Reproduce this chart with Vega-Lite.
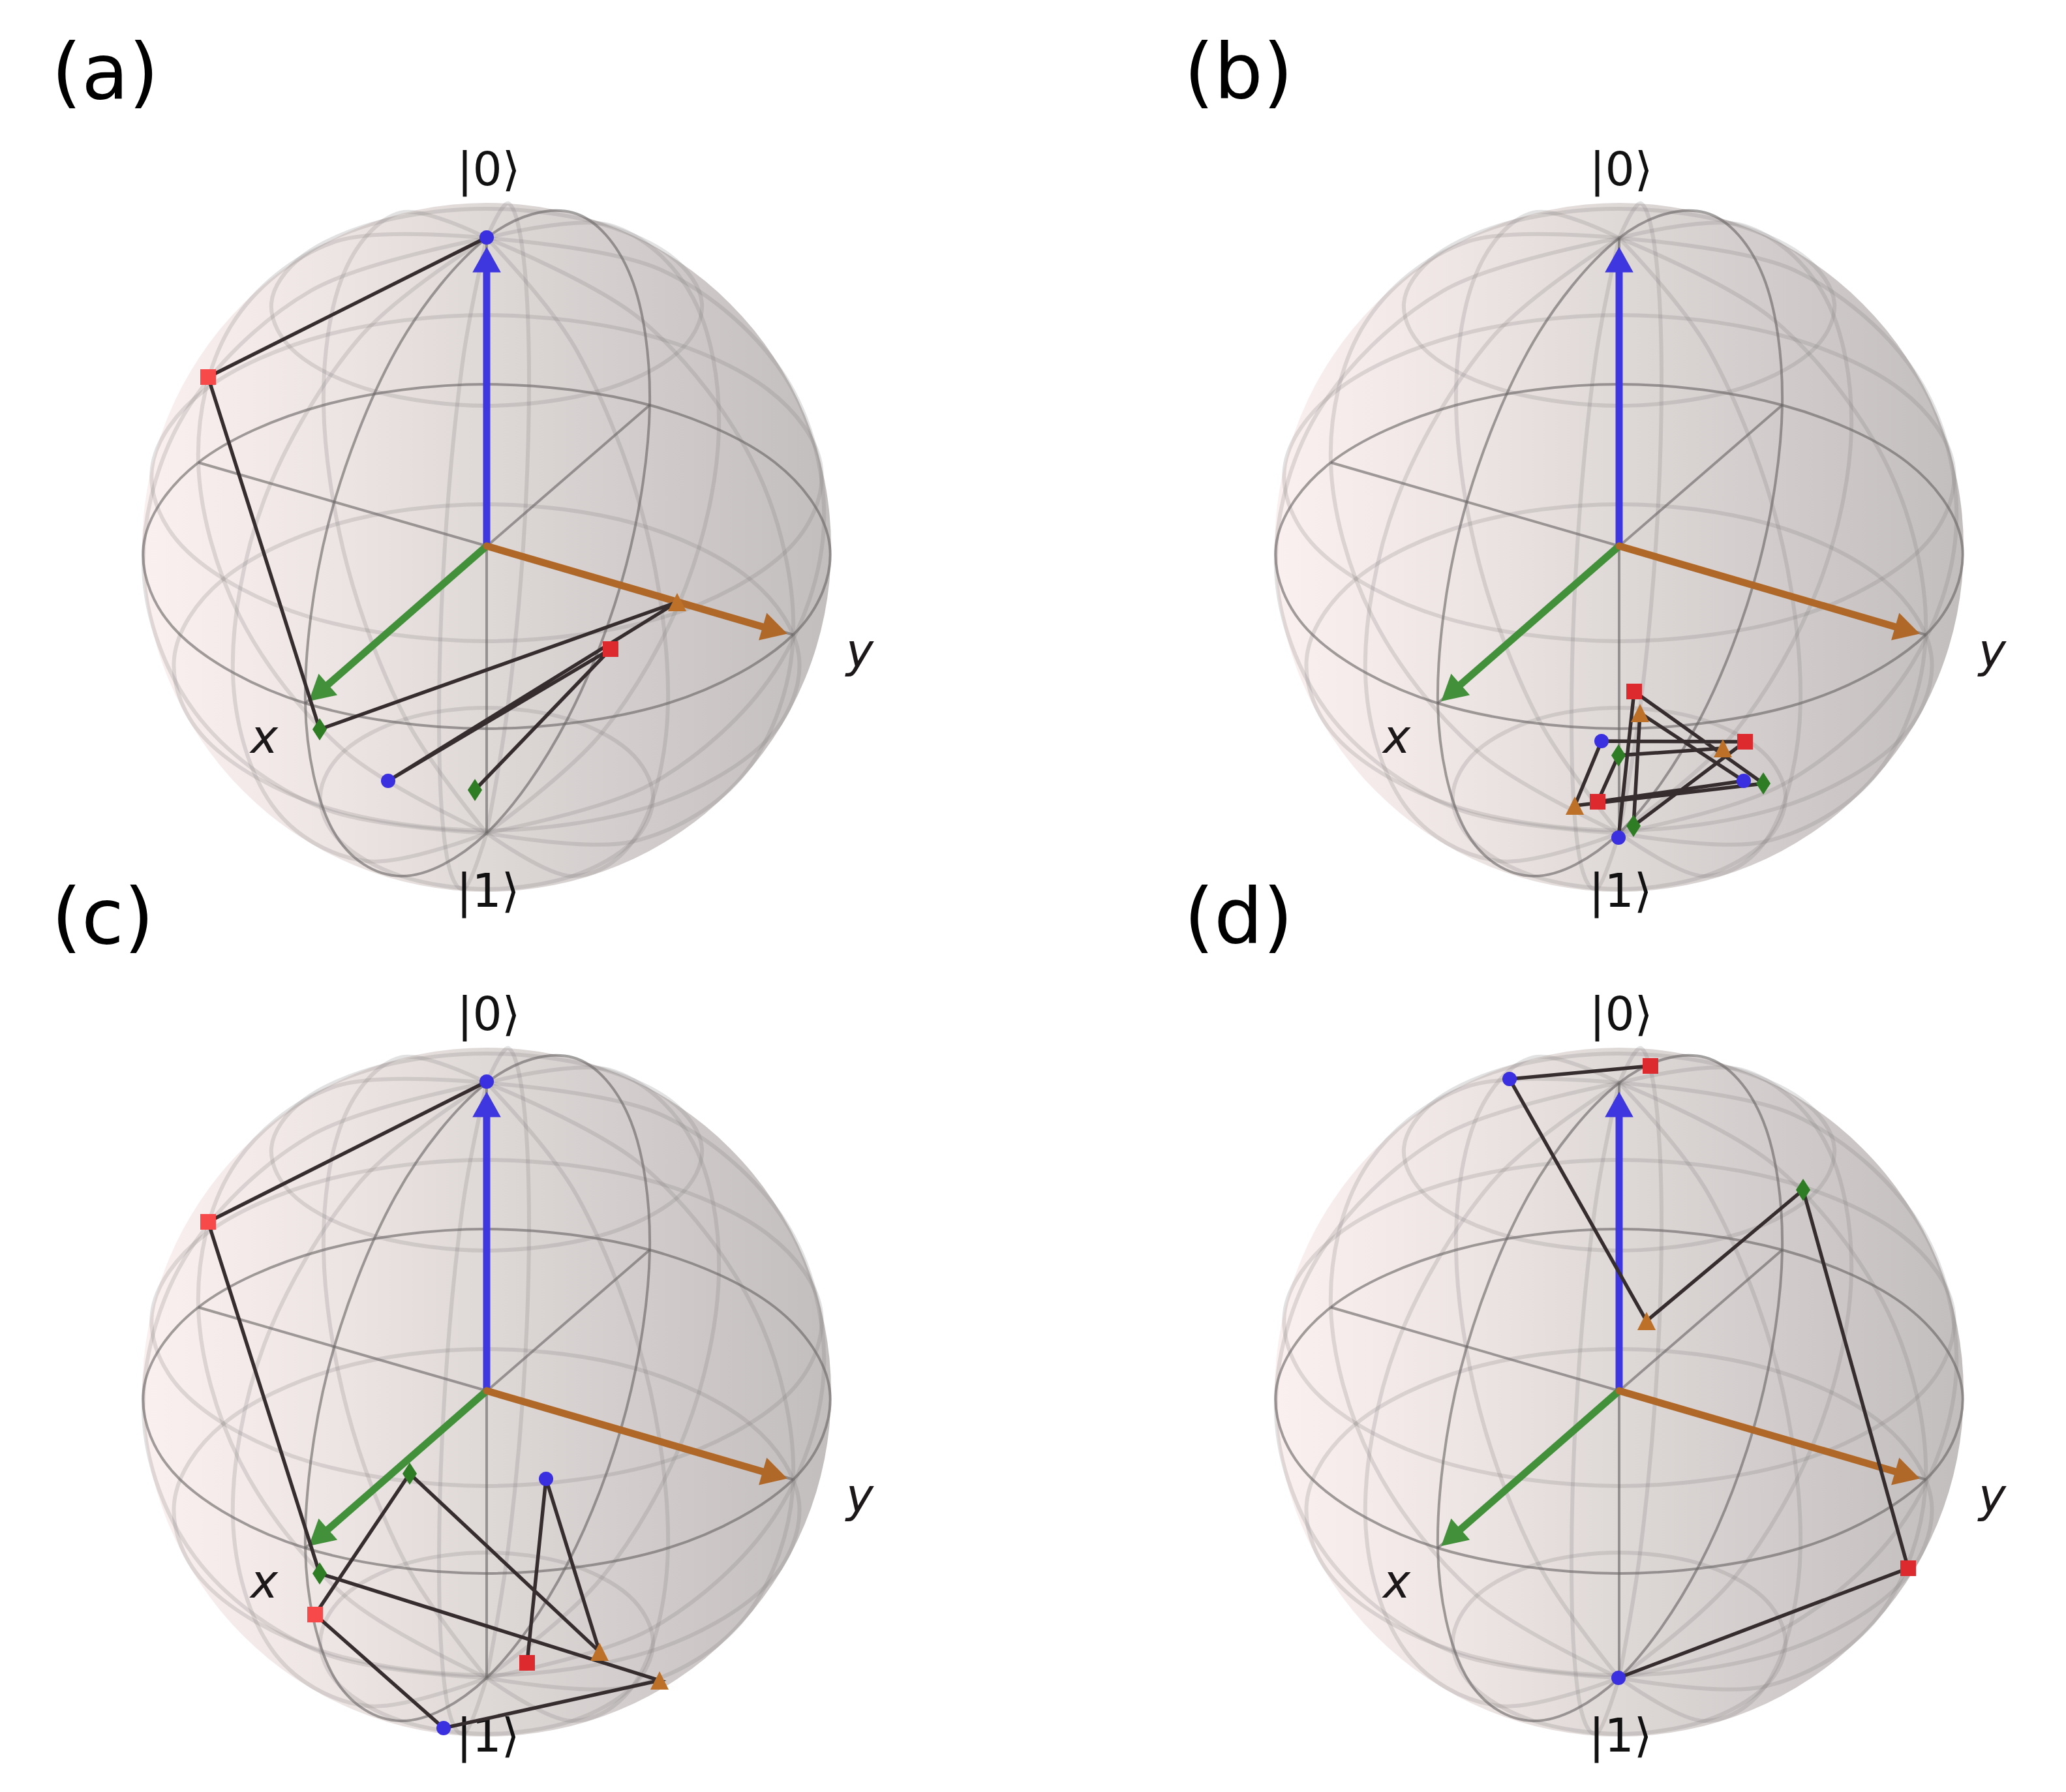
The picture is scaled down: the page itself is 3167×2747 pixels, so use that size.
{"$schema":"https://vega.github.io/schema/vega-lite/v6.json","padding":0,"background":"white","columns":2,"spacing":0,"bounds":"flush","config":{"view":{"stroke":null}},
"datasets":{
"sphere":[{"x":746,"y":839}],
"lat":[
{"c":"a","k":0,"x":1076,"y":465},{"c":"a","k":1,"x":1026,"y":391},{"c":"a","k":2,"x":906,"y":339},{"c":"a","k":3,"x":746,"y":320},{"c":"a","k":4,"x":586,"y":339},{"c":"a","k":5,"x":466,"y":391},{"c":"a","k":6,"x":416,"y":465},{"c":"a","k":7,"x":455,"y":542},{"c":"a","k":8,"x":575,"y":600},{"c":"a","k":9,"x":746,"y":622},{"c":"a","k":10,"x":917,"y":600},{"c":"a","k":11,"x":1037,"y":542},
{"c":"b","k":0,"x":1259,"y":718},{"c":"b","k":1,"x":1177,"y":597},{"c":"b","k":2,"x":990,"y":513},{"c":"b","k":3,"x":746,"y":483},{"c":"b","k":4,"x":502,"y":513},{"c":"b","k":5,"x":315,"y":597},{"c":"b","k":6,"x":233,"y":718},{"c":"b","k":7,"x":288,"y":846},{"c":"b","k":8,"x":475,"y":946},{"c":"b","k":9,"x":746,"y":983},{"c":"b","k":10,"x":1017,"y":946},{"c":"b","k":11,"x":1204,"y":846},
{"c":"d","k":0,"x":1225,"y":1009},{"c":"d","k":1,"x":1150,"y":888},{"c":"d","k":2,"x":975,"y":803},{"c":"d","k":3,"x":746,"y":773},{"c":"d","k":4,"x":517,"y":803},{"c":"d","k":5,"x":342,"y":888},{"c":"d","k":6,"x":267,"y":1009},{"c":"d","k":7,"x":319,"y":1137},{"c":"d","k":8,"x":494,"y":1236},{"c":"d","k":9,"x":746,"y":1273},{"c":"d","k":10,"x":998,"y":1236},{"c":"d","k":11,"x":1173,"y":1137},
{"c":"e","k":0,"x":1001,"y":1220},{"c":"e","k":1,"x":964,"y":1151},{"c":"e","k":2,"x":870,"y":1102},{"c":"e","k":3,"x":746,"y":1085},{"c":"e","k":4,"x":622,"y":1102},{"c":"e","k":5,"x":528,"y":1151},{"c":"e","k":6,"x":491,"y":1220},{"c":"e","k":7,"x":522,"y":1290},{"c":"e","k":8,"x":615,"y":1343},{"c":"e","k":9,"x":746,"y":1363},{"c":"e","k":10,"x":877,"y":1343},{"c":"e","k":11,"x":970,"y":1290}],
"mer":[
{"c":"m1","k":0,"x":746,"y":365},{"c":"m1","k":1,"x":985,"y":492},{"c":"m1","k":2,"x":1159,"y":718},{"c":"m1","k":3,"x":1216,"y":973},{"c":"m1","k":4,"x":1144,"y":1182},{"c":"m1","k":5,"x":970,"y":1290},{"c":"m1","k":6,"x":746,"y":1277},
{"c":"m2","k":0,"x":746,"y":365},{"c":"m2","k":1,"x":515,"y":370},{"c":"m2","k":2,"x":355,"y":498},{"c":"m2","k":3,"x":304,"y":709},{"c":"m2","k":4,"x":368,"y":946},{"c":"m2","k":5,"x":528,"y":1151},{"c":"m2","k":6,"x":746,"y":1277},
{"c":"m3","k":0,"x":746,"y":365},{"c":"m3","k":1,"x":1014,"y":414},{"c":"m3","k":2,"x":1203,"y":577},{"c":"m3","k":3,"x":1263,"y":803},{"c":"m3","k":4,"x":1187,"y":1030},{"c":"m3","k":5,"x":998,"y":1202},{"c":"m3","k":6,"x":746,"y":1277},
{"c":"m4","k":0,"x":746,"y":365},{"c":"m4","k":1,"x":476,"y":446},{"c":"m4","k":2,"x":283,"y":634},{"c":"m4","k":3,"x":220,"y":872},{"c":"m4","k":4,"x":299,"y":1092},{"c":"m4","k":5,"x":492,"y":1238},{"c":"m4","k":6,"x":746,"y":1277},
{"c":"m5","k":0,"x":746,"y":365},{"c":"m5","k":1,"x":934,"y":345},{"c":"m5","k":2,"x":1062,"y":456},{"c":"m5","k":3,"x":1102,"y":659},{"c":"m5","k":4,"x":1051,"y":900},{"c":"m5","k":5,"x":923,"y":1123},{"c":"m5","k":6,"x":746,"y":1277},
{"c":"m6","k":0,"x":746,"y":365},{"c":"m6","k":1,"x":550,"y":519},{"c":"m6","k":2,"x":405,"y":766},{"c":"m6","k":3,"x":357,"y":1032},{"c":"m6","k":4,"x":417,"y":1234},{"c":"m6","k":5,"x":562,"y":1320},{"c":"m6","k":6,"x":746,"y":1277},
{"c":"m7","k":0,"x":746,"y":365},{"c":"m7","k":1,"x":780,"y":312},{"c":"m7","k":2,"x":803,"y":399},{"c":"m7","k":3,"x":811,"y":591},{"c":"m7","k":4,"x":802,"y":839},{"c":"m7","k":5,"x":778,"y":1086},{"c":"m7","k":6,"x":746,"y":1277},
{"c":"m8","k":0,"x":746,"y":365},{"c":"m8","k":1,"x":709,"y":556},{"c":"m8","k":2,"x":682,"y":835},{"c":"m8","k":3,"x":673,"y":1115},{"c":"m8","k":4,"x":684,"y":1307},{"c":"m8","k":5,"x":712,"y":1362},{"c":"m8","k":6,"x":746,"y":1277},
{"c":"m9","k":0,"x":746,"y":365},{"c":"m9","k":1,"x":614,"y":326},{"c":"m9","k":2,"x":525,"y":424},{"c":"m9","k":3,"x":496,"y":621},{"c":"m9","k":4,"x":532,"y":866},{"c":"m9","k":5,"x":622,"y":1102},{"c":"m9","k":6,"x":746,"y":1277},
{"c":"m10","k":0,"x":746,"y":365},{"c":"m10","k":1,"x":885,"y":539},{"c":"m10","k":2,"x":989,"y":804},{"c":"m10","k":3,"x":1024,"y":1078},{"c":"m10","k":4,"x":980,"y":1274},{"c":"m10","k":5,"x":877,"y":1343},{"c":"m10","k":6,"x":746,"y":1277}],
"frame":[
{"c":"eq","k":0,"x":1272,"y":837},{"c":"eq","k":1,"x":1188,"y":709},{"c":"eq","k":2,"x":996,"y":621},{"c":"eq","k":3,"x":746,"y":589},{"c":"eq","k":4,"x":496,"y":621},{"c":"eq","k":5,"x":304,"y":709},{"c":"eq","k":6,"x":220,"y":837},{"c":"eq","k":7,"x":276,"y":973},{"c":"eq","k":8,"x":468,"y":1078},{"c":"eq","k":9,"x":746,"y":1117},{"c":"eq","k":10,"x":1024,"y":1078},{"c":"eq","k":11,"x":1216,"y":973},
{"c":"xz","k":0,"x":746,"y":365},{"c":"xz","k":1,"x":878,"y":326},{"c":"xz","k":2,"x":967,"y":424},{"c":"xz","k":3,"x":996,"y":621},{"c":"xz","k":4,"x":960,"y":866},{"c":"xz","k":5,"x":870,"y":1102},{"c":"xz","k":6,"x":746,"y":1277},{"c":"xz","k":7,"x":615,"y":1343},{"c":"xz","k":8,"x":511,"y":1274},{"c":"xz","k":9,"x":468,"y":1078},{"c":"xz","k":10,"x":503,"y":804},{"c":"xz","k":11,"x":606,"y":539}],
"axes":[
{"c":"x","k":0,"x":468,"y":1078},{"c":"x","k":1,"x":996,"y":621},
{"c":"y","k":0,"x":1216,"y":973},{"c":"y","k":1,"x":304,"y":709},
{"c":"z","k":0,"x":746,"y":365},{"c":"z","k":1,"x":746,"y":1277}],
"shaft":[
{"series":"arrowBlue","k":0,"x":746,"y":837},{"series":"arrowBlue","k":1,"x":746,"y":405},
{"series":"arrowGreen","k":0,"x":746,"y":837},{"series":"arrowGreen","k":1,"x":493,"y":1058},
{"series":"arrowOrange","k":0,"x":746,"y":837},{"series":"arrowOrange","k":1,"x":1180,"y":964}],
"head":[
{"series":"arrowBlue","x":746,"y":398,"ang":0},
{"series":"arrowGreen","x":488,"y":1062,"ang":228.9},
{"series":"arrowOrange","x":1188,"y":966,"ang":106.3}],
"labels":[{"x":749,"y":284,"t":"|0⟩"},{"x":748,"y":1390,"t":"|1⟩"}],
"axisnames":[{"x":405,"y":1154,"t":"x"},{"x":1318,"y":1022,"t":"y"}],
"pa":[
{"k":0,"x":746,"y":364,"series":"blue"},{"k":1,"x":319,"y":578,"series":"redFar"},{"k":2,"x":490,"y":1118,"series":"green"},{"k":3,"x":1038,"y":923,"series":"orange"},{"k":4,"x":595,"y":1197,"series":"blue"},{"k":5,"x":936,"y":995,"series":"red"},{"k":6,"x":728,"y":1211,"series":"green"}],
"pb":[
{"k":0,"x":745,"y":1284,"series":"blue"},{"k":1,"x":769,"y":1060,"series":"red"},{"k":2,"x":967,"y":1201,"series":"green"},{"k":3,"x":678,"y":1235,"series":"orange"},{"k":4,"x":719,"y":1136,"series":"blue"},{"k":5,"x":939,"y":1137,"series":"red"},{"k":6,"x":768,"y":1266,"series":"green"},{"k":7,"x":778,"y":1093,"series":"orange"},{"k":8,"x":937,"y":1197,"series":"blue"},{"k":9,"x":713,"y":1229,"series":"red"},{"k":10,"x":745,"y":1158,"series":"green"},{"k":11,"x":905,"y":1147,"series":"orange"}],
"pc":[
{"k":0,"x":746,"y":363,"series":"blue"},{"k":1,"x":319,"y":578,"series":"redFar"},{"k":2,"x":490,"y":1117,"series":"green"},{"k":3,"x":1011,"y":1281,"series":"orange"},{"k":4,"x":680,"y":1354,"series":"blue"},{"k":5,"x":483,"y":1180,"series":"redFar"},{"k":6,"x":628,"y":964,"series":"green"},{"k":7,"x":919,"y":1237,"series":"orange"},{"k":8,"x":837,"y":972,"series":"blue"},{"k":9,"x":808,"y":1254,"series":"red"}],
"pd":[
{"k":0,"x":745,"y":1277,"series":"blue"},{"k":1,"x":1189,"y":1109,"series":"red"},{"k":2,"x":1028,"y":529,"series":"green"},{"k":3,"x":788,"y":730,"series":"orange"},{"k":4,"x":578,"y":359,"series":"blue"},{"k":5,"x":794,"y":339,"series":"red"}]
},
"concat":[
{"width":1736,"height":1295,
"encoding":{"x":{"field":"x","type":"quantitative","axis":null,"scale":{"domain":[0,1736],"nice":false,"zero":false}},"y":{"field":"y","type":"quantitative","axis":null,"scale":{"domain":[1295,0],"nice":false,"zero":false}}},
"layer":[
{"data":{"name":"sphere"},"mark":{"type":"point","shape":"circle","filled":true,"opacity":1,"size":1115136,"strokeWidth":0,"fill":{"gradient":"linear","x1":0,"y1":0,"x2":1,"y2":0,"stops":[{"offset":0,"color":"#faf0ef"},{"offset":0.3,"color":"#ece4e3"},{"offset":0.5,"color":"#ded8d7"},{"offset":0.75,"color":"#d0cbca"},{"offset":1,"color":"#c2bebd"}]}}},
{"data":{"name":"lat"},"mark":{"type":"line","interpolate":"cardinal-closed","stroke":"#7f7a7a","strokeWidth":6,"opacity":0.22},"encoding":{"detail":{"field":"c"},"order":{"field":"k"}}},
{"data":{"name":"mer"},"mark":{"type":"line","interpolate":"cardinal","stroke":"#7f7a7a","strokeWidth":6,"opacity":0.22},"encoding":{"detail":{"field":"c"},"order":{"field":"k"}}},
{"data":{"name":"frame"},"mark":{"type":"line","interpolate":"cardinal-closed","stroke":"#6a6666","strokeWidth":4,"opacity":0.62},"encoding":{"detail":{"field":"c"},"order":{"field":"k"}}},
{"data":{"name":"axes"},"mark":{"type":"line","stroke":"#6a6666","strokeWidth":4,"opacity":0.62},"encoding":{"detail":{"field":"c"},"order":{"field":"k"}}},
{"data":{"name":"labels"},"mark":{"type":"text","font":"DejaVu Sans","fontSize":71,"align":"center","baseline":"alphabetic","color":"#111111"},"encoding":{"text":{"field":"t"}}},
{"data":{"name":"axisnames"},"mark":{"type":"text","font":"DejaVu Sans","fontStyle":"italic","fontSize":71,"align":"center","baseline":"alphabetic","color":"#1c1819"},"encoding":{"text":{"field":"t"}}},
{"data":{"name":"shaft"},"mark":{"type":"line","strokeWidth":11,"strokeCap":"round"},"encoding":{"detail":{"field":"series"},"order":{"field":"k"},"color":{"field":"series","legend":null,"scale":{"domain":["blue","red","redFar","green","orange","arrowBlue","arrowGreen","arrowOrange"],"range":["#3a30e0","#dc2a2f","#f7484a","#2e7d24","#bd7028","#3e36df","#43903b","#b06828"]}}}},
{"data":{"name":"head"},"mark":{"type":"point","filled":true,"opacity":1,"size":1900,"shape":"M0,-0.9L1,0.9L-1,0.9Z"},"encoding":{"angle":{"field":"ang","type":"quantitative","scale":null},"color":{"field":"series","legend":null,"scale":{"domain":["blue","red","redFar","green","orange","arrowBlue","arrowGreen","arrowOrange"],"range":["#3a30e0","#dc2a2f","#f7484a","#2e7d24","#bd7028","#3e36df","#43903b","#b06828"]}}}},
{"data":{"name":"pa"},"mark":{"type":"line","stroke":"#352d2e","strokeWidth":5.5},"encoding":{"order":{"field":"k"}}},
{"data":{"name":"pa"},"mark":{"type":"point","filled":true,"opacity":1,"strokeWidth":0,"size":576},"encoding":{"color":{"field":"series","legend":null,"scale":{"domain":["blue","red","redFar","green","orange","arrowBlue","arrowGreen","arrowOrange"],"range":["#3a30e0","#dc2a2f","#f7484a","#2e7d24","#bd7028","#3e36df","#43903b","#b06828"]}},"shape":{"field":"series","legend":null,"scale":{"domain":["blue","red","redFar","green","orange"],"range":["M-0.92,0A0.92,0.92,0,1,1,0.92,0A0.92,0.92,0,1,1,-0.92,0Z","square","square","M0,-1.42L0.92,0L0,1.42L-0.92,0Z","M0,-1.17L1.17,1.17L-1.17,1.17Z"]}}}},
{"data":{"values":[{"x":79,"y":151,"t":"(a)"}]},"mark":{"type":"text","font":"DejaVu Sans","fontSize":118,"align":"left","baseline":"alphabetic","color":"#000000"},"encoding":{"text":{"field":"t"}}}
]},
{"width":1431,"height":1295,
"encoding":{"x":{"field":"x","type":"quantitative","axis":null,"scale":{"domain":[0,1431],"nice":false,"zero":false}},"y":{"field":"y","type":"quantitative","axis":null,"scale":{"domain":[1295,0],"nice":false,"zero":false}}},
"layer":[
{"data":{"name":"sphere"},"mark":{"type":"point","shape":"circle","filled":true,"opacity":1,"size":1115136,"strokeWidth":0,"fill":{"gradient":"linear","x1":0,"y1":0,"x2":1,"y2":0,"stops":[{"offset":0,"color":"#faf0ef"},{"offset":0.3,"color":"#ece4e3"},{"offset":0.5,"color":"#ded8d7"},{"offset":0.75,"color":"#d0cbca"},{"offset":1,"color":"#c2bebd"}]}}},
{"data":{"name":"lat"},"mark":{"type":"line","interpolate":"cardinal-closed","stroke":"#7f7a7a","strokeWidth":6,"opacity":0.22},"encoding":{"detail":{"field":"c"},"order":{"field":"k"}}},
{"data":{"name":"mer"},"mark":{"type":"line","interpolate":"cardinal","stroke":"#7f7a7a","strokeWidth":6,"opacity":0.22},"encoding":{"detail":{"field":"c"},"order":{"field":"k"}}},
{"data":{"name":"frame"},"mark":{"type":"line","interpolate":"cardinal-closed","stroke":"#6a6666","strokeWidth":4,"opacity":0.62},"encoding":{"detail":{"field":"c"},"order":{"field":"k"}}},
{"data":{"name":"axes"},"mark":{"type":"line","stroke":"#6a6666","strokeWidth":4,"opacity":0.62},"encoding":{"detail":{"field":"c"},"order":{"field":"k"}}},
{"data":{"name":"labels"},"mark":{"type":"text","font":"DejaVu Sans","fontSize":71,"align":"center","baseline":"alphabetic","color":"#111111"},"encoding":{"text":{"field":"t"}}},
{"data":{"name":"axisnames"},"mark":{"type":"text","font":"DejaVu Sans","fontStyle":"italic","fontSize":71,"align":"center","baseline":"alphabetic","color":"#1c1819"},"encoding":{"text":{"field":"t"}}},
{"data":{"name":"shaft"},"mark":{"type":"line","strokeWidth":11,"strokeCap":"round"},"encoding":{"detail":{"field":"series"},"order":{"field":"k"},"color":{"field":"series","legend":null,"scale":{"domain":["blue","red","redFar","green","orange","arrowBlue","arrowGreen","arrowOrange"],"range":["#3a30e0","#dc2a2f","#f7484a","#2e7d24","#bd7028","#3e36df","#43903b","#b06828"]}}}},
{"data":{"name":"head"},"mark":{"type":"point","filled":true,"opacity":1,"size":1900,"shape":"M0,-0.9L1,0.9L-1,0.9Z"},"encoding":{"angle":{"field":"ang","type":"quantitative","scale":null},"color":{"field":"series","legend":null,"scale":{"domain":["blue","red","redFar","green","orange","arrowBlue","arrowGreen","arrowOrange"],"range":["#3a30e0","#dc2a2f","#f7484a","#2e7d24","#bd7028","#3e36df","#43903b","#b06828"]}}}},
{"data":{"name":"pb"},"mark":{"type":"line","stroke":"#352d2e","strokeWidth":5.5},"encoding":{"order":{"field":"k"}}},
{"data":{"name":"pb"},"mark":{"type":"point","filled":true,"opacity":1,"strokeWidth":0,"size":576},"encoding":{"color":{"field":"series","legend":null,"scale":{"domain":["blue","red","redFar","green","orange","arrowBlue","arrowGreen","arrowOrange"],"range":["#3a30e0","#dc2a2f","#f7484a","#2e7d24","#bd7028","#3e36df","#43903b","#b06828"]}},"shape":{"field":"series","legend":null,"scale":{"domain":["blue","red","redFar","green","orange"],"range":["M-0.92,0A0.92,0.92,0,1,1,0.92,0A0.92,0.92,0,1,1,-0.92,0Z","square","square","M0,-1.42L0.92,0L0,1.42L-0.92,0Z","M0,-1.17L1.17,1.17L-1.17,1.17Z"]}}}},
{"data":{"values":[{"x":79,"y":151,"t":"(b)"}]},"mark":{"type":"text","font":"DejaVu Sans","fontSize":118,"align":"left","baseline":"alphabetic","color":"#000000"},"encoding":{"text":{"field":"t"}}}
]},
{"width":1736,"height":1452,
"encoding":{"x":{"field":"x","type":"quantitative","axis":null,"scale":{"domain":[0,1736],"nice":false,"zero":false}},"y":{"field":"y","type":"quantitative","axis":null,"scale":{"domain":[1452,0],"nice":false,"zero":false}}},
"layer":[
{"data":{"name":"sphere"},"mark":{"type":"point","shape":"circle","filled":true,"opacity":1,"size":1115136,"strokeWidth":0,"fill":{"gradient":"linear","x1":0,"y1":0,"x2":1,"y2":0,"stops":[{"offset":0,"color":"#faf0ef"},{"offset":0.3,"color":"#ece4e3"},{"offset":0.5,"color":"#ded8d7"},{"offset":0.75,"color":"#d0cbca"},{"offset":1,"color":"#c2bebd"}]}}},
{"data":{"name":"lat"},"mark":{"type":"line","interpolate":"cardinal-closed","stroke":"#7f7a7a","strokeWidth":6,"opacity":0.22},"encoding":{"detail":{"field":"c"},"order":{"field":"k"}}},
{"data":{"name":"mer"},"mark":{"type":"line","interpolate":"cardinal","stroke":"#7f7a7a","strokeWidth":6,"opacity":0.22},"encoding":{"detail":{"field":"c"},"order":{"field":"k"}}},
{"data":{"name":"frame"},"mark":{"type":"line","interpolate":"cardinal-closed","stroke":"#6a6666","strokeWidth":4,"opacity":0.62},"encoding":{"detail":{"field":"c"},"order":{"field":"k"}}},
{"data":{"name":"axes"},"mark":{"type":"line","stroke":"#6a6666","strokeWidth":4,"opacity":0.62},"encoding":{"detail":{"field":"c"},"order":{"field":"k"}}},
{"data":{"name":"labels"},"mark":{"type":"text","font":"DejaVu Sans","fontSize":71,"align":"center","baseline":"alphabetic","color":"#111111"},"encoding":{"text":{"field":"t"}}},
{"data":{"name":"axisnames"},"mark":{"type":"text","font":"DejaVu Sans","fontStyle":"italic","fontSize":71,"align":"center","baseline":"alphabetic","color":"#1c1819"},"encoding":{"text":{"field":"t"}}},
{"data":{"name":"shaft"},"mark":{"type":"line","strokeWidth":11,"strokeCap":"round"},"encoding":{"detail":{"field":"series"},"order":{"field":"k"},"color":{"field":"series","legend":null,"scale":{"domain":["blue","red","redFar","green","orange","arrowBlue","arrowGreen","arrowOrange"],"range":["#3a30e0","#dc2a2f","#f7484a","#2e7d24","#bd7028","#3e36df","#43903b","#b06828"]}}}},
{"data":{"name":"head"},"mark":{"type":"point","filled":true,"opacity":1,"size":1900,"shape":"M0,-0.9L1,0.9L-1,0.9Z"},"encoding":{"angle":{"field":"ang","type":"quantitative","scale":null},"color":{"field":"series","legend":null,"scale":{"domain":["blue","red","redFar","green","orange","arrowBlue","arrowGreen","arrowOrange"],"range":["#3a30e0","#dc2a2f","#f7484a","#2e7d24","#bd7028","#3e36df","#43903b","#b06828"]}}}},
{"data":{"name":"pc"},"mark":{"type":"line","stroke":"#352d2e","strokeWidth":5.5},"encoding":{"order":{"field":"k"}}},
{"data":{"name":"pc"},"mark":{"type":"point","filled":true,"opacity":1,"strokeWidth":0,"size":576},"encoding":{"color":{"field":"series","legend":null,"scale":{"domain":["blue","red","redFar","green","orange","arrowBlue","arrowGreen","arrowOrange"],"range":["#3a30e0","#dc2a2f","#f7484a","#2e7d24","#bd7028","#3e36df","#43903b","#b06828"]}},"shape":{"field":"series","legend":null,"scale":{"domain":["blue","red","redFar","green","orange"],"range":["M-0.92,0A0.92,0.92,0,1,1,0.92,0A0.92,0.92,0,1,1,-0.92,0Z","square","square","M0,-1.42L0.92,0L0,1.42L-0.92,0Z","M0,-1.17L1.17,1.17L-1.17,1.17Z"]}}}},
{"data":{"values":[{"x":79,"y":151,"t":"(c)"}]},"mark":{"type":"text","font":"DejaVu Sans","fontSize":118,"align":"left","baseline":"alphabetic","color":"#000000"},"encoding":{"text":{"field":"t"}}}
]},
{"width":1431,"height":1452,
"encoding":{"x":{"field":"x","type":"quantitative","axis":null,"scale":{"domain":[0,1431],"nice":false,"zero":false}},"y":{"field":"y","type":"quantitative","axis":null,"scale":{"domain":[1452,0],"nice":false,"zero":false}}},
"layer":[
{"data":{"name":"sphere"},"mark":{"type":"point","shape":"circle","filled":true,"opacity":1,"size":1115136,"strokeWidth":0,"fill":{"gradient":"linear","x1":0,"y1":0,"x2":1,"y2":0,"stops":[{"offset":0,"color":"#faf0ef"},{"offset":0.3,"color":"#ece4e3"},{"offset":0.5,"color":"#ded8d7"},{"offset":0.75,"color":"#d0cbca"},{"offset":1,"color":"#c2bebd"}]}}},
{"data":{"name":"lat"},"mark":{"type":"line","interpolate":"cardinal-closed","stroke":"#7f7a7a","strokeWidth":6,"opacity":0.22},"encoding":{"detail":{"field":"c"},"order":{"field":"k"}}},
{"data":{"name":"mer"},"mark":{"type":"line","interpolate":"cardinal","stroke":"#7f7a7a","strokeWidth":6,"opacity":0.22},"encoding":{"detail":{"field":"c"},"order":{"field":"k"}}},
{"data":{"name":"frame"},"mark":{"type":"line","interpolate":"cardinal-closed","stroke":"#6a6666","strokeWidth":4,"opacity":0.62},"encoding":{"detail":{"field":"c"},"order":{"field":"k"}}},
{"data":{"name":"axes"},"mark":{"type":"line","stroke":"#6a6666","strokeWidth":4,"opacity":0.62},"encoding":{"detail":{"field":"c"},"order":{"field":"k"}}},
{"data":{"name":"labels"},"mark":{"type":"text","font":"DejaVu Sans","fontSize":71,"align":"center","baseline":"alphabetic","color":"#111111"},"encoding":{"text":{"field":"t"}}},
{"data":{"name":"axisnames"},"mark":{"type":"text","font":"DejaVu Sans","fontStyle":"italic","fontSize":71,"align":"center","baseline":"alphabetic","color":"#1c1819"},"encoding":{"text":{"field":"t"}}},
{"data":{"name":"shaft"},"mark":{"type":"line","strokeWidth":11,"strokeCap":"round"},"encoding":{"detail":{"field":"series"},"order":{"field":"k"},"color":{"field":"series","legend":null,"scale":{"domain":["blue","red","redFar","green","orange","arrowBlue","arrowGreen","arrowOrange"],"range":["#3a30e0","#dc2a2f","#f7484a","#2e7d24","#bd7028","#3e36df","#43903b","#b06828"]}}}},
{"data":{"name":"head"},"mark":{"type":"point","filled":true,"opacity":1,"size":1900,"shape":"M0,-0.9L1,0.9L-1,0.9Z"},"encoding":{"angle":{"field":"ang","type":"quantitative","scale":null},"color":{"field":"series","legend":null,"scale":{"domain":["blue","red","redFar","green","orange","arrowBlue","arrowGreen","arrowOrange"],"range":["#3a30e0","#dc2a2f","#f7484a","#2e7d24","#bd7028","#3e36df","#43903b","#b06828"]}}}},
{"data":{"name":"pd"},"mark":{"type":"line","stroke":"#352d2e","strokeWidth":5.5},"encoding":{"order":{"field":"k"}}},
{"data":{"name":"pd"},"mark":{"type":"point","filled":true,"opacity":1,"strokeWidth":0,"size":576},"encoding":{"color":{"field":"series","legend":null,"scale":{"domain":["blue","red","redFar","green","orange","arrowBlue","arrowGreen","arrowOrange"],"range":["#3a30e0","#dc2a2f","#f7484a","#2e7d24","#bd7028","#3e36df","#43903b","#b06828"]}},"shape":{"field":"series","legend":null,"scale":{"domain":["blue","red","redFar","green","orange"],"range":["M-0.92,0A0.92,0.92,0,1,1,0.92,0A0.92,0.92,0,1,1,-0.92,0Z","square","square","M0,-1.42L0.92,0L0,1.42L-0.92,0Z","M0,-1.17L1.17,1.17L-1.17,1.17Z"]}}}},
{"data":{"values":[{"x":79,"y":151,"t":"(d)"}]},"mark":{"type":"text","font":"DejaVu Sans","fontSize":118,"align":"left","baseline":"alphabetic","color":"#000000"},"encoding":{"text":{"field":"t"}}}
]}
]}
